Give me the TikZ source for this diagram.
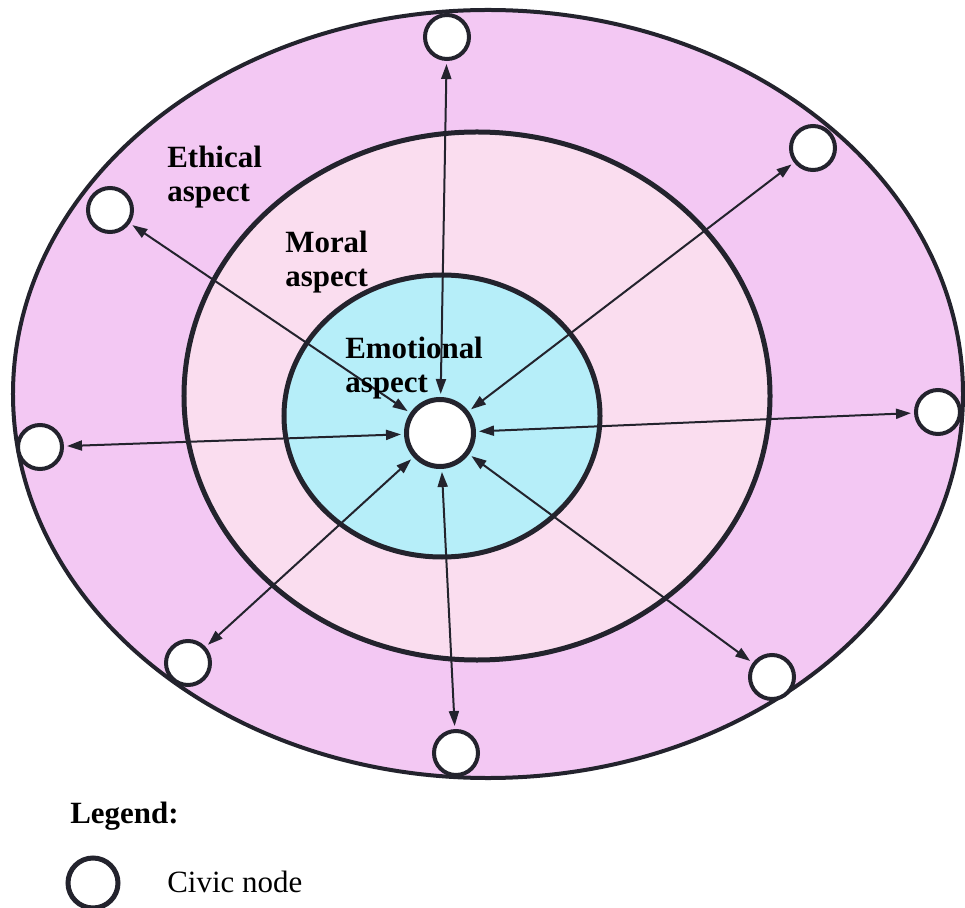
\documentclass[tikz,border=0pt]{standalone}
\usepackage{fontspec}
\setmainfont{Liberation Serif}
\usetikzlibrary{arrows.meta}
\definecolor{CivicOuter}{HTML}{F3C8F3}
\definecolor{CivicMiddle}{HTML}{FADDEF}
\definecolor{CivicInner}{HTML}{B6EEF9}
\definecolor{CivicLine}{HTML}{23232D}
\tikzset{
  ring/.style={draw=CivicLine,line width=1mm},
  civicnode/.style={circle,draw=CivicLine,fill=white,line width=0.8mm,
    minimum size=8.8mm,inner sep=0pt},
  corenode/.style={circle,draw=CivicLine,fill=white,line width=1mm,
    minimum size=13.4mm,inner sep=0pt},
  link/.style={{Triangle[length=3mm,width=2mm]}-{Triangle[length=3mm,width=2mm]},
    draw=CivicLine,line width=0.4mm,shorten >=0.6mm,shorten <=0.6mm},
  aspect/.style={anchor=north west,inner sep=0pt,align=left,
    font=\fontsize{17.6}{19}\selectfont\bfseries}
}

\begin{document}
\begin{tikzpicture}[x=0.2mm,y=-0.2mm]
  \useasboundingbox (0,0) rectangle (965,908);

  % three aspects as nested rings
  \filldraw[ring,fill=CivicOuter,line width=0.8mm]
    (488,394) ellipse[x radius=9.5cm,y radius=7.68cm];
  \filldraw[ring,fill=CivicMiddle]
    (477,396) ellipse[x radius=5.86cm,y radius=5.28cm];
  \filldraw[ring,fill=CivicInner]
    (442,416) ellipse[x radius=3.16cm,y radius=2.82cm];

  % civic nodes
  \node[corenode] (core) at (440,433) {};
  \foreach \nm/\px/\py in {top/447/37,topright/813/148,right/938/412,
    botright/772/677,bot/456/753,botleft/188/663,left/40/447,topleft/110/210}{
    \node[civicnode] (\nm) at (\px,\py) {};
  }

  \foreach \nm in {top,topright,right,botright,bot,botleft,left,topleft}{
    \draw[link] (core) -- (\nm);
  }

  \node[aspect] (ethical) at (167,146) {Ethical\\aspect};
  \node[aspect] (moral) at (285,231) {Moral\\aspect};
  \node[aspect] (emotional) at (345,337) {Emotional\\aspect};

  % legend
  \node[anchor=base west,inner sep=0pt,
    font=\fontsize{17.6}{19}\selectfont\bfseries] (legend) at (70,823) {Legend:};
  \node[circle,draw=CivicLine,line width=1mm,minimum size=10mm,inner sep=0pt]
    (legendnode) at (93,883) {};
  \node[anchor=base west,inner sep=0pt,
    font=\fontsize{17.6}{19}\selectfont] (legendtext) at (167,892) {Civic node};
\end{tikzpicture}
\end{document}
